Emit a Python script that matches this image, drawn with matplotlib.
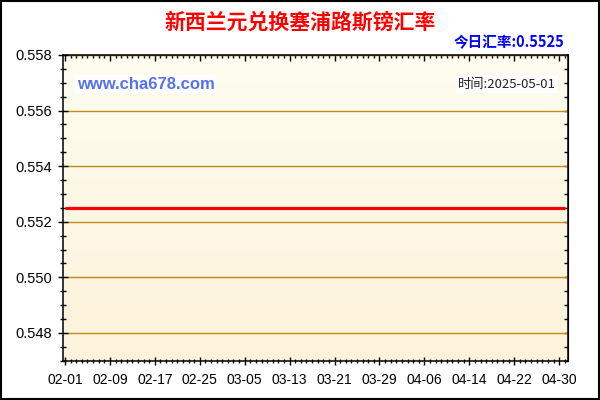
import matplotlib
matplotlib.use("Agg")
import matplotlib.pyplot as plt
import matplotlib.dates as mdates
from matplotlib.colors import LinearSegmentedColormap
from matplotlib.ticker import MultipleLocator, FixedLocator
from matplotlib.patches import Rectangle
import numpy as np
import pandas as pd

plt.rcParams['font.family'] = ['Liberation Sans', 'Noto Sans CJK SC', 'DejaVu Sans']

# data: NZD -> CYP daily rate, 2025-02-01 .. 2025-05-01
dates = pd.date_range("2025-02-01", "2025-05-01", freq="D")
rates = [
    0.5525, 0.5525, 0.5525, 0.5525, 0.5525, 0.5525, 0.5525, 0.5525, 0.5525, 0.5525,
    0.5525, 0.5525, 0.5525, 0.5525, 0.5525, 0.5525, 0.5525, 0.5525, 0.5525, 0.5525,
    0.5525, 0.5525, 0.5525, 0.5525, 0.5525, 0.5525, 0.5525, 0.5525, 0.5525, 0.5525,
    0.5525, 0.5525, 0.5525, 0.5525, 0.5525, 0.5525, 0.5525, 0.5525, 0.5525, 0.5525,
    0.5525, 0.5525, 0.5525, 0.5525, 0.5525, 0.5525, 0.5525, 0.5525, 0.5525, 0.5525,
    0.5525, 0.5525, 0.5525, 0.5525, 0.5525, 0.5525, 0.5525, 0.5525, 0.5525, 0.5525,
    0.5525, 0.5525, 0.5525, 0.5525, 0.5525, 0.5525, 0.5525, 0.5525, 0.5525, 0.5525,
    0.5525, 0.5525, 0.5525, 0.5525, 0.5525, 0.5525, 0.5525, 0.5525, 0.5525, 0.5525,
    0.5525, 0.5525, 0.5525, 0.5525, 0.5525, 0.5525, 0.5525, 0.5525, 0.5525, 0.5525,
]
x_tick_labels = ["02-01", "02-09", "02-17", "02-25", "03-05", "03-13",
                 "03-21", "03-29", "04-06", "04-14", "04-22", "04-30"]
y_ticks = [0.548, 0.550, 0.552, 0.554, 0.556, 0.558]
title = "新西兰元兑换塞浦路斯镑汇率"
today_rate = "今日汇率:0.5525"
date_text = "时间:2025-05-01"
site = "www.cha678.com"

cjk = ['Noto Sans CJK SC', 'DejaVu Sans']

fig = plt.figure(figsize=(6, 4), dpi=100)
ax = fig.add_axes([0.105, 0.098, 0.841, 0.7645])

# cream gradient background
cmap = LinearSegmentedColormap.from_list("bg", ["#fdf2da", "#fefdf0"])
ax.imshow(np.linspace(0, 1, 256).reshape(-1, 1), extent=[0, 1, 0, 1],
          transform=ax.transAxes, aspect='auto', cmap=cmap, origin='lower', zorder=0)

xnum = mdates.date2num(dates)
ax.plot(xnum, rates, color='#ff0000', lw=2.3, zorder=3, solid_capstyle='butt')

ax.set_xlim(xnum[0] - 0.36, xnum[0] + 89.5)
ax.set_ylim(0.547, 0.558)

major_x = mdates.date2num(pd.to_datetime(["2025-" + s for s in x_tick_labels]))
ax.xaxis.set_major_locator(FixedLocator(major_x))
ax.set_xticklabels(x_tick_labels)
ax.xaxis.set_minor_locator(MultipleLocator(1))
ax.set_yticks(y_ticks)
ax.set_yticklabels([f"{v:.3f}" for v in y_ticks])
ax.yaxis.set_minor_locator(MultipleLocator(0.0005))

ax.yaxis.grid(True, which='major', color='#bf8c12', lw=1.0, zorder=1)
ax.set_axisbelow(False)

for s in ax.spines.values():
    s.set_linewidth(1.1)
    s.set_color('black')
    s.set_zorder(4)

ax.tick_params(axis='y', which='major', direction='inout', length=7.2, width=1,
               labelsize=10.5, pad=4, colors='black')
ax.tick_params(axis='y', which='minor', direction='inout', length=4.3, width=1)
ax.tick_params(axis='x', which='major', direction='inout', length=5.8, width=1,
               labelsize=10, pad=6)
ax.tick_params(axis='x', which='minor', direction='inout', length=2.9, width=1)

# inward ticks on top and right
top = ax.secondary_xaxis('top')
top.xaxis.set_major_locator(FixedLocator(major_x))
top.xaxis.set_minor_locator(MultipleLocator(1))
top.tick_params(which='major', direction='in', length=4, width=1, labeltop=False)
top.tick_params(which='minor', direction='in', length=2.5, width=1)
top.set_xticklabels([])
right = ax.secondary_yaxis('right')
right.set_yticks(y_ticks)
right.yaxis.set_minor_locator(MultipleLocator(0.0005))
right.tick_params(which='major', direction='in', length=3, width=1, labelright=False)
right.tick_params(which='minor', direction='in', length=3, width=1)
right.set_yticklabels([])

# texts
fig.text(0.5, 0.945, title, color='#ff0000', fontsize=15, fontweight='bold',
         ha='center', va='center', family=cjk)
fig.text(0.94, 0.895, today_rate, color='#0000ff', fontsize=10.5, fontweight='bold',
         ha='right', va='center', family=cjk)
ax.text(0.027, 0.905, site, transform=ax.transAxes, color='#5572ee', fontsize=12,
        fontweight='bold', ha='left', va='center', zorder=5,
        bbox=dict(facecolor='white', edgecolor='none', pad=1.5))
ax.text(0.977, 0.905, date_text, transform=ax.transAxes, color='#222222', fontsize=9.5,
        ha='right', va='center', family=cjk, zorder=5,
        bbox=dict(facecolor='white', edgecolor='none', pad=1.5))

# outer border
fig.patches.append(Rectangle((0.001, 0.0015), 0.998, 0.997, transform=fig.transFigure,
                             fill=False, edgecolor='black', lw=1.5))

fig.savefig("out.png", dpi=100)
